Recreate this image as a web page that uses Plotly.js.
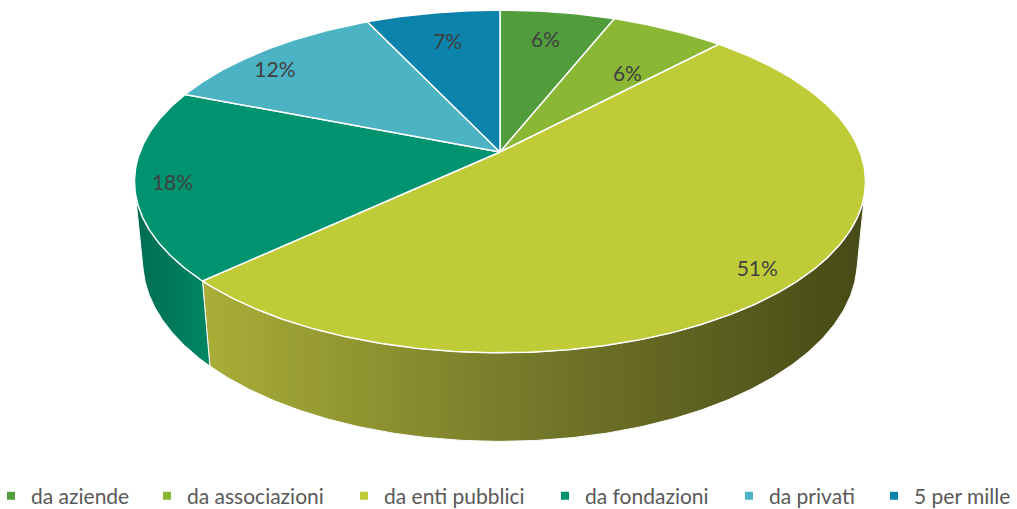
<!DOCTYPE html>
<html>
<head>
<meta charset="utf-8">
<script src="https://cdn.plot.ly/plotly-3.0.1.min.js"></script>
<style>
  html, body { margin: 0; padding: 0; background: #ffffff; }
  #chart { width: 1017px; height: 509px; }
</style>
</head>
<body>
<div id="chart"></div>
<script>
// ---- data ----
const categories = ['da aziende', 'da associazioni', 'da enti pubblici', 'da fondazioni', 'da privati', '5 per mille'];
const values = [6, 6, 51, 18, 12, 7];

// ---- style ----
const sliceColors = ['#519c3b', '#8bb834', '#bfcc38', '#00936f', '#4bb3c3', '#0b83ab'];
const sideScales = [
  [[0, '#3f7a2e'], [1, '#2e5a22']],
  [[0, '#6d9129'], [1, '#52701f']],
  [[0, '#a9ae37'], [0.5, '#74782a'], [1, '#464a15']],
  [[0, '#006c52'], [1, '#008664']],
  [[0, '#3a8c99'], [1, '#2b6c76']],
  [[0, '#086888'], [1, '#064e66']]
];
const labelRadius = [0.76, 0.63, 0.9, 0.9, 0.86, 0.75];
const labelFrac = [0.5, 0.74, 0.5, 0.48, 0.37, 0.5];
const legendX = [0, 156, 353, 554, 738, 883];   // legend entry offsets (px)
const FONT = 'Lato, "Open Sans", sans-serif';

// ---- 3D projection (geometry constants) ----
const G = { cx: 500, cy: 152, f: 1858, D: 5.16, elev: 27.5 * Math.PI / 180, h: 0.25 };
const sE = Math.sin(G.elev), cE = Math.cos(G.elev);
function proj(thetaDeg, r, z) {
  const t = thetaDeg * Math.PI / 180;
  const X = r * Math.sin(t), Y = r * Math.cos(t);
  const v = Y * sE + z * cE;
  const w = Y * cE - z * sE;
  const k = G.f / (G.D + w);
  return [G.cx + X * k, G.cy - v * k];
}
function arc(a1, a2, r, z) {
  const pts = [];
  const n = Math.max(2, Math.ceil(Math.abs(a2 - a1) / 0.5));
  for (let i = 0; i <= n; i++) pts.push(proj(a1 + (a2 - a1) * i / n, r, z));
  return pts;
}

const total = values.reduce((a, b) => a + b, 0);
const starts = [], ends = [];
let acc = 0;
values.forEach(v => { starts.push(acc / total * 360); acc += v; ends.push(acc / total * 360); });

// visible side range (silhouette of the cylinder)
const visA = Math.acos(-1 / (G.D * cE)) * 180 / Math.PI;
const visB = 360 - visA;

const traces = [];
// side walls
values.forEach((v, i) => {
  const a1 = Math.max(starts[i], visA), a2 = Math.min(ends[i], visB);
  if (a2 <= a1) return;
  const top = arc(a1, a2, 1, 0);
  const bot = arc(a2, a1, 1, -G.h);
  const pts = top.concat(bot);
  pts.push(top[0]);
  traces.push({
    type: 'scatter', mode: 'lines', fill: 'toself',
    x: pts.map(p => p[0]), y: pts.map(p => p[1]),
    line: { color: '#ffffff', width: 1 },
    fillgradient: { type: 'horizontal', colorscale: sideScales[i] },
    hoverinfo: 'skip', showlegend: false
  });
});
// top faces
values.forEach((v, i) => {
  const pts = [proj(0, 0, 0)].concat(arc(starts[i], ends[i], 1, 0));
  pts.push(proj(0, 0, 0));
  traces.push({
    type: 'scatter', mode: 'lines', fill: 'toself',
    x: pts.map(p => p[0]), y: pts.map(p => p[1]),
    fillcolor: sliceColors[i],
    line: { color: '#ffffff', width: 1.5 },
    hoverinfo: 'skip', showlegend: false
  });
});
// percentage labels
const lp = values.map((v, i) => proj(starts[i] + (ends[i] - starts[i]) * labelFrac[i], labelRadius[i], 0));
traces.push({
  type: 'scatter', mode: 'text',
  x: lp.map(p => p[0]), y: lp.map(p => p[1]),
  text: values.map(v => v + '%'),
  textposition: 'middle center',
  textfont: { family: FONT, size: 21, color: '#404040' },
  hoverinfo: 'skip', showlegend: false
});

const layout = {
  width: 1017, height: 509,
  margin: { l: 0, r: 0, t: 0, b: 0, autoexpand: false },
  paper_bgcolor: '#ffffff', plot_bgcolor: '#ffffff',
  xaxis: { range: [0, 1017], visible: false, fixedrange: true },
  yaxis: { range: [509, 0], visible: false, fixedrange: true },
  showlegend: true,
  hovermode: false
};

// legend entries: one legend per category so each sits where the original puts it
categories.forEach((c, i) => {
  const lid = i === 0 ? 'legend' : 'legend' + (i + 1);
  traces.push({
    type: 'scatter', mode: 'markers', x: [null], y: [null], name: c,
    legend: lid,
    marker: { symbol: 'square', size: 8, color: sliceColors[i] },
    hoverinfo: 'skip', showlegend: true
  });
  layout[lid] = {
    orientation: 'h', xref: 'container', yref: 'container',
    x: legendX[i] / 1017, xanchor: 'left',
    y: 1 - 496 / 509, yanchor: 'middle',
    indentation: -9,
    font: { family: FONT, size: 21, color: '#595959' },
    bgcolor: 'rgba(0,0,0,0)', borderwidth: 0,
    itemclick: false, itemdoubleclick: false
  };
});

Plotly.newPlot('chart', traces, layout, { displayModeBar: false, staticPlot: true });
</script>
</body>
</html>
